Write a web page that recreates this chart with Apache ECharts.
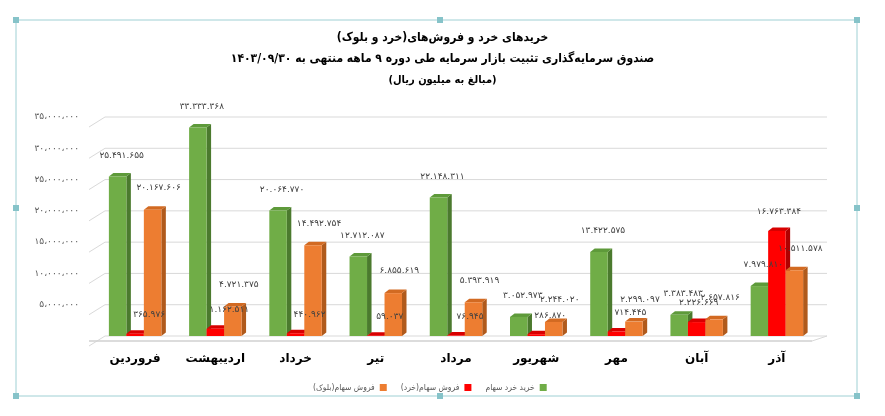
<!DOCTYPE html>
<html><head><meta charset="utf-8">
<script src="https://cdn.jsdelivr.net/npm/echarts@6/dist/echarts.min.js"></script>
<style>html,body{margin:0;padding:0;background:#fff}#c{width:885px;height:416px}</style>
</head><body><div id="c"></div>
<script>
const categories = ['فروردین','اردیبهشت','خرداد','تیر','مرداد','شهریور','مهر','آبان','آذر'];
const retailBuy  = [25491655, 33333368, 20064770, 12712087, 22148311, 3052973, 13422575, 3383483, 7979810];
const retailSell = [365976, 1162511, 440962, 59037, 76945, 286870, 714445, 2226669, 16763384];
const blockSell  = [20167606, 4721375, 14492754, 6855619, 5393919, 2244020, 2299097, 2657816, 10511578];
const seriesNames = ['خرید خرد سهام', 'فروش سهام(خرد)', 'فروش سهام(بلوک)'];
const titleLines = ['خریدهای خرد و فروش\u200cهای(خرد و بلوک)',
  'صندوق سرمایه\u200cگذاری تثبیت بازار سرمایه طی دوره ۹ ماهه منتهی به ۱۴۰۳/۰۹/۳۰',
  '(مبالغ به میلیون ریال)'];
const yTicks = [0, 5000000, 10000000, 15000000, 20000000, 25000000, 30000000, 35000000];
const yMin = 0, yMax = 35000000, yStep = 5000000;

const RLM = '\u200F';
const rtl = s => RLM + s + RLM;
const FA = '۰۱۲۳۴۵۶۷۸۹';
function faDigits(s){ return String(s).replace(/\d/g, d => FA[+d]); }
function grouped(v, sep){ return faDigits(String(Math.round(v)).replace(/\B(?=(\d{3})+(?!\d))/g, sep)); }

const palettes = [
  {front:'#70ad47', side:'#4b7a2e', top:'#5e9a3a', ldx:() => 4, ldy:-21},
  {front:'#ff0000', side:'#b00000', top:'#d80000', ldx:v => v < 2000000 ? 14 : 2, ldy:-19},
  {front:'#ed7d31', side:'#b05a1c', top:'#d26a22', ldx:() => 6, ldy:-22}
];
const FONT = '"DejaVu Sans", "Noto Sans", sans-serif';
const FONT_C = '"DejaVu Sans Condensed", "DejaVu Sans", sans-serif';

function make3D(idx){
  const p = palettes[idx];
  return function(params, api){
    const ci = api.value(0), v = api.value(1);
    const base = api.coord([ci, 0]);
    const topP = api.coord([ci, v]);
    const band = api.size([1, 0])[0];
    const w = band * 0.218;
    const x0 = base[0] - 1.5 * w + idx * w;
    const x1 = x0 + w;
    const yb = base[1], yt = topP[1];
    const dx = 4.5, dy = 3.5;
    return {type:'group', children:[
      {type:'polygon', shape:{points:[[x1,yb],[x1,yt],[x1+dx,yt-dy],[x1+dx,yb-dy]]}, style:{fill:p.side}},
      {type:'polygon', shape:{points:[[x0,yt],[x1,yt],[x1+dx,yt-dy],[x0+dx,yt-dy]]}, style:{fill:p.top}},
      {type:'rect', shape:{x:x0, y:yt, width:w, height:Math.max(0, yb-yt)}, style:{fill:p.front}},
      {type:'text', z2:100, style:{text:grouped(v, '.'), x:(x0+x1)/2 + p.ldx(v), y:yt + p.ldy,
        align:'center', verticalAlign:'middle', fontSize:9, fontFamily:FONT, fill:'#404040'}}
    ]};
  };
}

function wallLines(params, api){
  const cs = params.coordSys;
  const v = api.value(0);
  const y = api.coord([0, v])[1];
  const L = cs.x, R = cs.x + cs.width;
  const children = [
    {type:'polyline', shape:{points:[[L-6, y+10],[L+10, y],[R+10, y]]}, style:{stroke:'#d9d9d9', lineWidth:1, fill:null}}
  ];
  if (v === 0) {
    children.push({type:'line', shape:{x1:L-6, y1:y+5, x2:R-5, y2:y+5}, style:{stroke:'#d0d0d0', lineWidth:1.5}});
    children.push({type:'line', shape:{x1:R-5, y1:y+5, x2:R+10, y2:y}, style:{stroke:'#d9d9d9', lineWidth:1}});
  }
  return {type:'group', children};
}

const dataSets = [retailBuy, retailSell, blockSell];
const chart = echarts.init(document.getElementById('c'), null, {renderer:'canvas'});
const handle = (x, y) => ({type:'rect', shape:{x:x-3, y:y-3, width:6, height:6}, style:{fill:'#86c3c9'}, z:10});
chart.setOption({
  animation:false,
  backgroundColor:'#ffffff',
  title: titleLines.map((t, i) => ({
    text:rtl(t), left:'center', top:[32, 53, 75][i], padding:0,
    textStyle:{fontSize:[12,12,11][i], fontWeight:'bold', color:'#000', fontFamily:FONT_C}
  })),
  graphic:[
    {type:'rect', shape:{x:16, y:20, width:841, height:376}, style:{fill:'none', stroke:'#9fd0d4', lineWidth:1}, z:9},
    handle(16,20), handle(440,20), handle(857,20), handle(16,208), handle(857,208),
    handle(16,396), handle(440,396), handle(857,396)
  ],
  legend:{
    data:[seriesNames[2], seriesNames[1], seriesNames[0]],
    formatter: n => rtl(n),
    left:308, top:378, align:'right', icon:'rect', itemWidth:7, itemHeight:7, itemGap:14, itemStyle:{borderWidth:0},
    textStyle:{fontSize:8.5, color:'#595959', fontFamily:FONT_C}
  },
  grid:{left:95, right:68, top:117, bottom:80},
  xAxis:{
    type:'category', data:categories.map(rtl),
    axisLine:{show:false}, axisTick:{show:false},
    axisLabel:{fontSize:12, fontWeight:'bold', color:'#000', margin:17, fontFamily:FONT}
  },
  yAxis:{
    type:'value', min:yMin, max:yMax, interval:yStep,
    axisLine:{show:false}, axisTick:{show:false},
    splitLine:{show:false},
    axisLabel:{fontSize:9, color:'#595959', margin:16, fontFamily:FONT,
      formatter: v => v === 0 ? '' : grouped(v, '،')}
  },
  series: [{
    type:'custom', name:'wall', silent:true, z:1, encode:{y:0},
    data: yTicks.map(v => [v]),
    renderItem: wallLines
  }].concat(dataSets.map((arr, idx) => ({
    type:'custom', name:seriesNames[idx],
    itemStyle:{color:palettes[idx].front},
    encode:{x:0, y:1},
    data: arr.map((v, i) => [i, v]),
    renderItem: make3D(idx)
  })))
});
</script></body></html>
